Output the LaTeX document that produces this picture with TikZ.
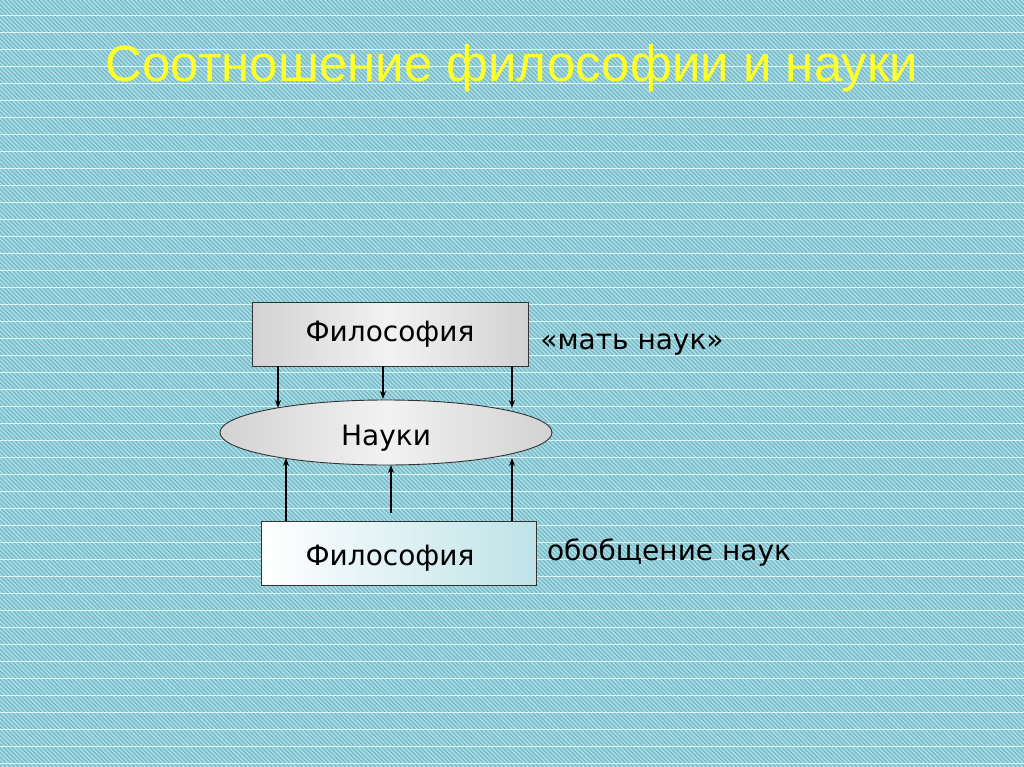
\documentclass[tikz,border=0pt]{standalone}
\usepackage{fontspec}
\setmainfont{DejaVu Sans}
\newfontfamily\titlefont{Liberation Sans}
\usetikzlibrary{arrows.meta,shapes.geometric}
\definecolor{bgbase}{HTML}{AADFE8}
\definecolor{bgstripe}{HTML}{7BBAC7}
\definecolor{bgline}{HTML}{DDF4F7}
\definecolor{titleyellow}{HTML}{FFFF2A}
\definecolor{marbleA}{HTML}{D2D2D2}
\definecolor{marbleB}{HTML}{F2F2F2}
\definecolor{paleteal}{HTML}{BFE3E8}
\tikzset{
  boxtext/.style={font=\fontsize{28}{32}\selectfont},
  marblebox/.style={draw=black!80, line width=0.9pt, left color=marbleA, right color=marbleA, middle color=marbleB},
  arr/.style={-{Stealth[length=8pt,width=6pt]}, line width=1.1pt, black}
}
\begin{document}
\begin{tikzpicture}[x=1pt,y=-1pt]
\useasboundingbox (0,0) rectangle (1024,767);
\fill[bgbase] (0,0) rectangle (1024,767);
\begin{scope}
\clip (0,0) rectangle (1024,767);
\foreach \i in {-190,...,250} \draw[bgstripe, line width=1.4pt] ({\i*4.3},0) -- ({\i*4.3+767},767);
\foreach \j in {0,...,45} \draw[bgline, line width=0.9pt] (0,{15+\j*17}) -- (1024,{15+\j*17});
\end{scope}
\node[text=titleyellow, font=\titlefont\fontsize{51}{58}\selectfont] (title) at (512,68) {Соотношение философии и науки};
\node[marblebox, boxtext, minimum width=276pt, minimum height=64pt] (phtop) at (390,334) {Философия};
\node[marblebox, boxtext, ellipse, minimum width=332pt, minimum height=65pt, inner sep=0pt] (sci) at (386,432.5) {\raisebox{-6pt}[\height][\depth]{Науки}};
\node[draw=black!80, line width=0.9pt, shading angle=60, left color=white, right color=paleteal, boxtext, minimum width=275pt, minimum height=64pt] (phbot) at (398.5,553) {\hspace*{-17pt}\raisebox{-5pt}[\height][\depth]{Философия}};
\node[boxtext] (mother) at (632,345) {«мать наук»};
\node[boxtext] (gen) at (669,553) {обобщение наук};
\coordinate (d1e) at (278,408);
\coordinate (d2e) at (383,399);
\coordinate (d3e) at (512,408);
\coordinate (u1e) at (286,458);
\coordinate (u2s) at (391,513);
\coordinate (u2e) at (391,465);
\coordinate (u3e) at (512,458);
\draw[arr] (phtop.south -| d1e) -- (d1e);
\draw[arr] (phtop.south -| d2e) -- (d2e);
\draw[arr] (phtop.south -| d3e) -- (d3e);
\draw[arr] (phbot.north -| u1e) -- (u1e);
\draw[arr] (u2s) -- (u2e);
\draw[arr] (phbot.north -| u3e) -- (u3e);
\end{tikzpicture}
\end{document}
